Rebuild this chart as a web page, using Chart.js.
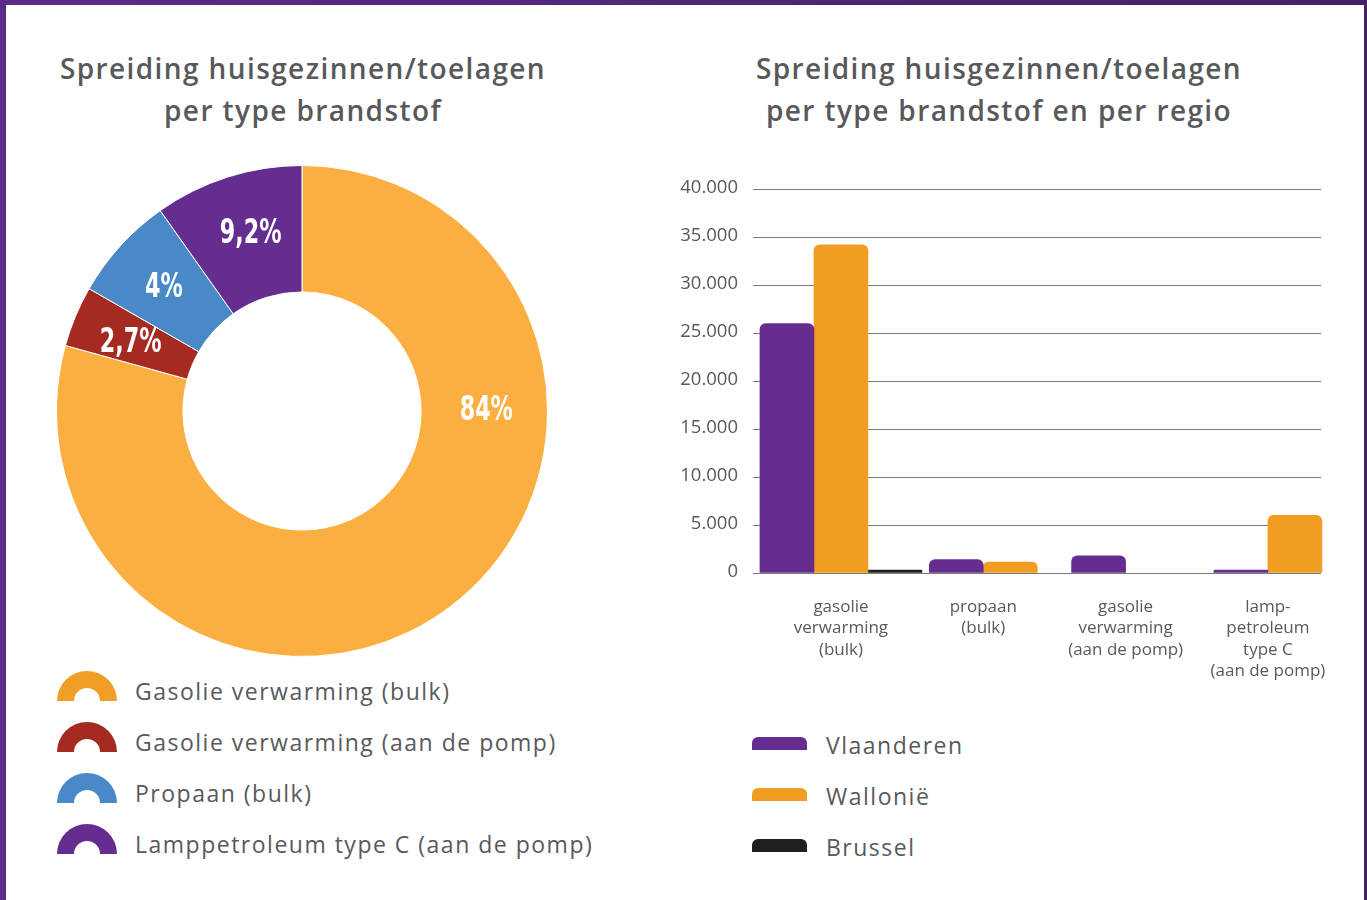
<!DOCTYPE html>
<html>
<head>
<meta charset="utf-8">
<script src="https://cdn.jsdelivr.net/npm/chart.js@4.4.1/dist/chart.umd.min.js"></script>
<style>
  body {
    margin: 0;
    width: 1367px;
    height: 900px;
    overflow: hidden;
    position: relative;
    background: linear-gradient(90deg, #5b2b8a, #452266);
    font-family: "Open Sans", sans-serif;
    color: #58595b;
  }
  .sheet {
    position: absolute;
    left: 6px;
    top: 5px;
    width: 1358px;
    height: 905px;
    background: #fff;
  }
  .title {
    position: absolute;
    top: 47px;
    width: 620px;
    text-align: center;
    font-weight: 600;
    font-size: 28px;
    letter-spacing: 1.4px;
    line-height: 42px;
    color: #58595b;
  }
  .box { position: absolute; }
  .legend-row {
    position: absolute;
    font-size: 23px;
    letter-spacing: 1.5px;
    line-height: 30px;
    color: #58595b;
    white-space: nowrap;
  }
  .arc {
    position: absolute;
    width: 60px;
    height: 30px;
    border-radius: 30px 30px 0 0;
  }
  .arc::after {
    content: "";
    position: absolute;
    left: 17px;
    bottom: 0;
    width: 26px;
    height: 13px;
    border-radius: 13px 13px 0 0;
    background: #fff;
  }
  .bar-key {
    position: absolute;
    width: 55px;
    height: 13px;
    border-radius: 6px 6px 0 0;
  }
</style>
</head>
<body>
<div class="sheet"></div>

<div class="title" style="left:-7px">Spreiding huisgezinnen/toelagen<br>per type brandstof</div>
<div class="title" style="left:689px">Spreiding huisgezinnen/toelagen<br>per type brandstof en per regio</div>

<div class="box" style="left:56px; top:165px; width:492px; height:492px;">
  <canvas id="pieChart"></canvas>
</div>
<div class="box" style="left:660px; top:163px; width:690px; height:527px;">
  <canvas id="barChart"></canvas>
</div>

<div id="pieLegend"></div>
<div id="barLegend"></div>

<script>
// households per fuel type
const fuelTypes = [
  "Gasolie verwarming (bulk)",
  "Gasolie verwarming (aan de pomp)",
  "Propaan (bulk)",
  "Lamppetroleum type C (aan de pomp)"
];
// printed percentages
const shareLabels = ["84%", "2,7%", "4%", "9,2%"];
// slice sizes as drawn in the picture (%)
const sliceShares = [79.3, 4.0, 6.9, 9.8];
const sliceColors = ["#fbaf41", "#a52a22", "#4a89c7", "#652d8f"];
const legendArcColors = ["#f09e25", "#a52a22", "#4a89c7", "#652d8f"];

// households per fuel type and region
const fuelCategories = [
  ["gasolie", "verwarming", "(bulk)"],
  ["propaan", "(bulk)"],
  ["gasolie", "verwarming", "(aan de pomp)"],
  ["lamp-", "petroleum", "type C", "(aan de pomp)"]
];
const regions = ["Vlaanderen", "Wallonië", "Brussel"];
const vlaanderen = [26000, 1400, 1800, 300];
const wallonie = [34200, 1150, 0, 6000];
const brussel = [300, null, null, null];
const regionColors = ["#662d91", "#f09d22", "#231f20"];

const yMax = 40000;
const yStep = 5000;

// where the percentage labels sit (degrees clockwise from 12 o'clock)
const labelAngles = [90, 291.6, 311.5, 343.8];

const thousands = v => String(v).replace(/\B(?=(\d{3})+(?!\d))/g, ".");

const sliceLabels = {
  id: "sliceLabels",
  afterDatasetsDraw(chart) {
    const ctx = chart.ctx;
    chart.getDatasetMeta(0).data.forEach((arc, i) => {
      const r = (arc.innerRadius + arc.outerRadius) / 2 + 2;
      const a = (labelAngles[i] - 90) * Math.PI / 180;
      ctx.save();
      ctx.translate(arc.x + r * Math.cos(a), arc.y + r * Math.sin(a));
      ctx.scale(0.75, 1);
      ctx.font = 'bold 33px "Liberation Sans Narrow", "DejaVu Sans Condensed", sans-serif';
      ctx.fillStyle = "#fff";
      ctx.textAlign = "center";
      ctx.textBaseline = "middle";
      ctx.fillText(shareLabels[i], 0, 0);
      ctx.restore();
    });
  }
};

new Chart(document.getElementById("pieChart"), {
  type: "doughnut",
  data: {
    labels: fuelTypes,
    datasets: [{
      data: sliceShares,
      backgroundColor: sliceColors,
      borderColor: "#ffffff",
      borderWidth: 1,
      hoverOffset: 0
    }]
  },
  options: {
    responsive: true,
    maintainAspectRatio: false,
    animation: false,
    cutout: "48.5%",
    plugins: { legend: { display: false }, tooltip: { enabled: false } }
  },
  plugins: [sliceLabels]
});

const toPoints = arr => arr.map((v, i) => ({ x: i, y: v }));

new Chart(document.getElementById("barChart"), {
  type: "bar",
  data: {
    datasets: [vlaanderen, wallonie, brussel].map((vals, k) => ({
      label: regions[k],
      data: toPoints(vals),
      // a zero bar keeps its slot but should not tint the baseline
      backgroundColor: c => (c.raw && c.raw.y === 0 ? "rgba(0,0,0,0)" : regionColors[k]),
      barThickness: 54,
      skipNull: true,
      clip: false,
      borderRadius: { topLeft: 6, topRight: 6 },
      borderSkipped: "start"
    }))
  },
  options: {
    responsive: true,
    maintainAspectRatio: false,
    animation: false,
    layout: { padding: { top: 0, right: 29, bottom: 0, left: 0 } },
    plugins: { legend: { display: false }, tooltip: { enabled: false } },
    scales: {
      x: {
        type: "linear",
        offset: false,
        min: -0.618,
        max: 3.373,
        grid: { display: false },
        border: { display: false },
        afterFit: s => { s.height = 117; },
        ticks: {
          stepSize: 1,
          includeBounds: false,
          autoSkip: false,
          maxRotation: 0,
          padding: 16,
          color: "#58595b",
          font: { family: "Open Sans", size: 17, lineHeight: 1.24 },
          callback: v => fuelCategories[v] || ""
        }
      },
      y: {
        min: 0,
        max: yMax,
        grid: { color: "#7a7a7a", lineWidth: 1, drawTicks: false },
        border: { display: false },
        afterFit: s => { s.width = 93; },
        ticks: {
          stepSize: yStep,
          padding: 15,
          labelOffset: -1,
          color: "#58595b",
          font: { family: "Open Sans", size: 18.5 },
          callback: v => thousands(v)
        }
      }
    }
  }
});

// legends
const pieLegend = document.getElementById("pieLegend");
fuelTypes.forEach((name, i) => {
  const top = 671 + i * 51;
  pieLegend.insertAdjacentHTML("beforeend",
    `<div class="arc" style="left:57px; top:${top}px; background:${legendArcColors[i]}"></div>` +
    `<div class="legend-row" style="left:135px; top:${top + 5}px">${name}</div>`);
});

const barLegend = document.getElementById("barLegend");
regions.forEach((name, i) => {
  const top = 737 + i * 51;
  barLegend.insertAdjacentHTML("beforeend",
    `<div class="bar-key" style="left:752px; top:${top}px; background:${regionColors[i]}"></div>` +
    `<div class="legend-row" style="left:826px; top:${top - 7}px">${name}</div>`);
});
</script>
</body>
</html>
